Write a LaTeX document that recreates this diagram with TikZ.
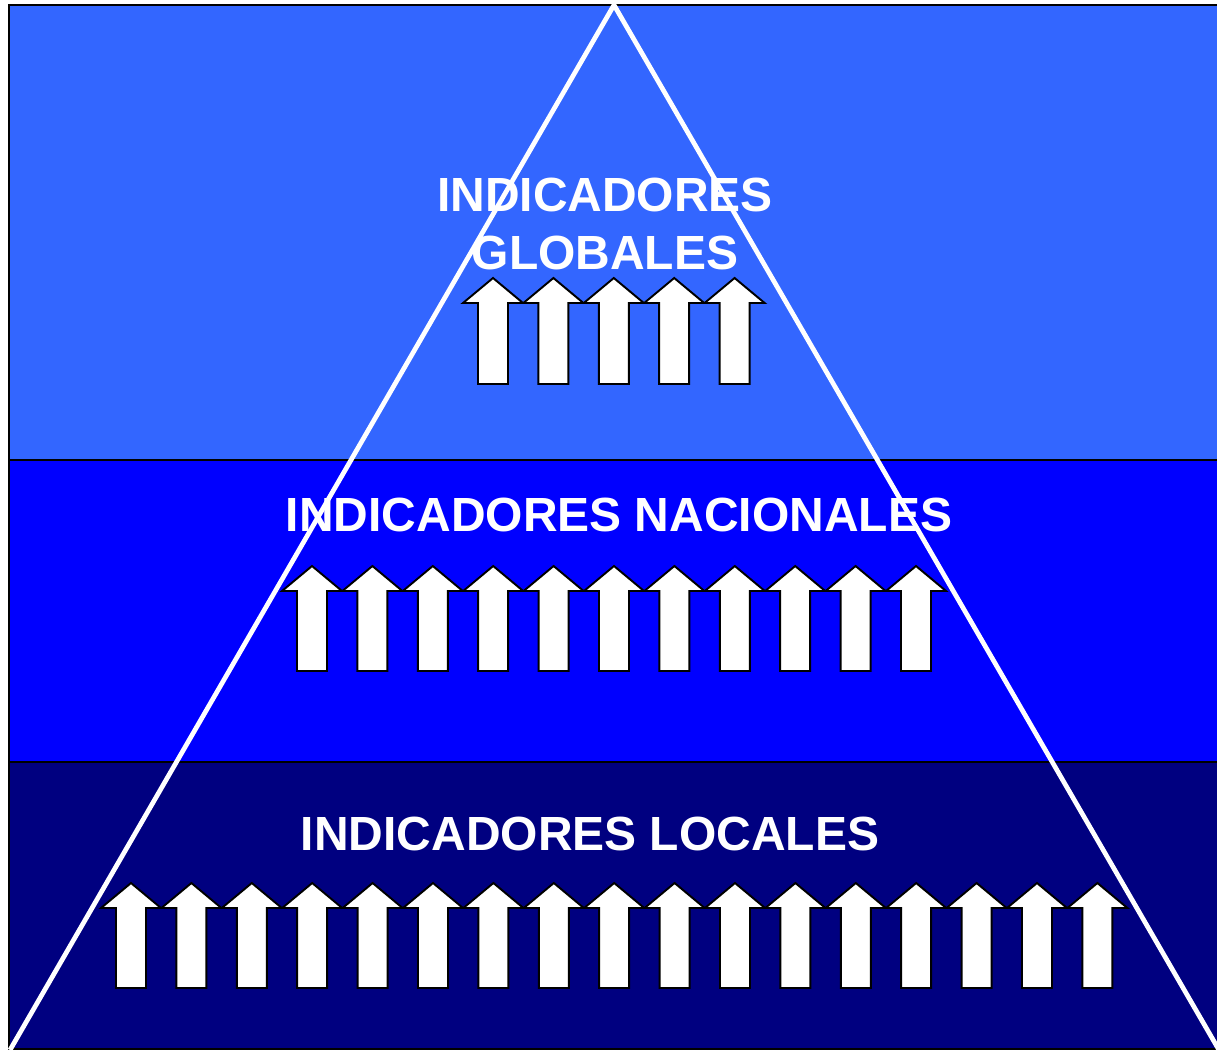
\documentclass[tikz,border=0pt]{standalone}
\usepackage{fontspec}
\setmainfont{Liberation Sans}
\usepackage{xcolor}
\usepackage{tikz}
\usetikzlibrary{calc,positioning}
\definecolor{bandglobal}{HTML}{3366FF}
\definecolor{bandnational}{HTML}{0000FF}
\definecolor{bandlocal}{HTML}{000080}

\tikzset{
  band/.style={draw=black, line width=1.2pt},
  pyramid/.style={draw=white, line width=2.7pt},
  upblock/.style={fill=white, draw=black, line width=1.1pt, line join=miter},
  bandlabel/.style={text=white, font=\fontsize{27.3}{32.5}\selectfont\bfseries, align=center, inner sep=0pt}
}

\begin{document}
\begin{tikzpicture}[x=0.02cm, y=-0.02cm]
\useasboundingbox (0,0) rectangle (1217,1055);

% Bands
\fill[bandglobal] (9,5) rectangle (1222,460);
\fill[bandnational] (9,460) rectangle (1222,762);
\fill[bandlocal] (9,762) rectangle (1222,1049);
\draw[band] (9,5) rectangle (1222,460);
\draw[band] (9,460) rectangle (1222,762);
\draw[band] (9,762) rectangle (1222,1049);

% Pyramid outline
\coordinate (apex) at (614,5);
\coordinate (baseL) at (10,1050);
\coordinate (baseR) at (1219,1050);
\draw[pyramid] (baseL) -- (apex) -- (baseR);

% Block arrows: first centre, count, head top, head base, shaft bottom
\def\gap{60.4}
\foreach \first/\n/\tp/\hb/\bt in {493/5/278/303/384, 312/11/566/591/671, 131/17/883/908/988}{
  \foreach \i in {1,...,\n}{
    \pgfmathsetmacro{\cx}{\first+(\i-1)*\gap}
    \draw[upblock] (\cx-15,\bt) -- (\cx-15,\hb) -- (\cx-30,\hb) -- (\cx,\tp)
      -- (\cx+30,\hb) -- (\cx+15,\hb) -- (\cx+15,\bt) -- cycle;
  }
}

% Labels
\node[bandlabel] (globales) at (605,224) {INDICADORES\\GLOBALES};
\node[bandlabel, anchor=base] (nacionales) at (619,531) {INDICADORES NACIONALES};
\node[bandlabel, anchor=base] (locales) at (590,850) {INDICADORES LOCALES};

\end{tikzpicture}
\end{document}
